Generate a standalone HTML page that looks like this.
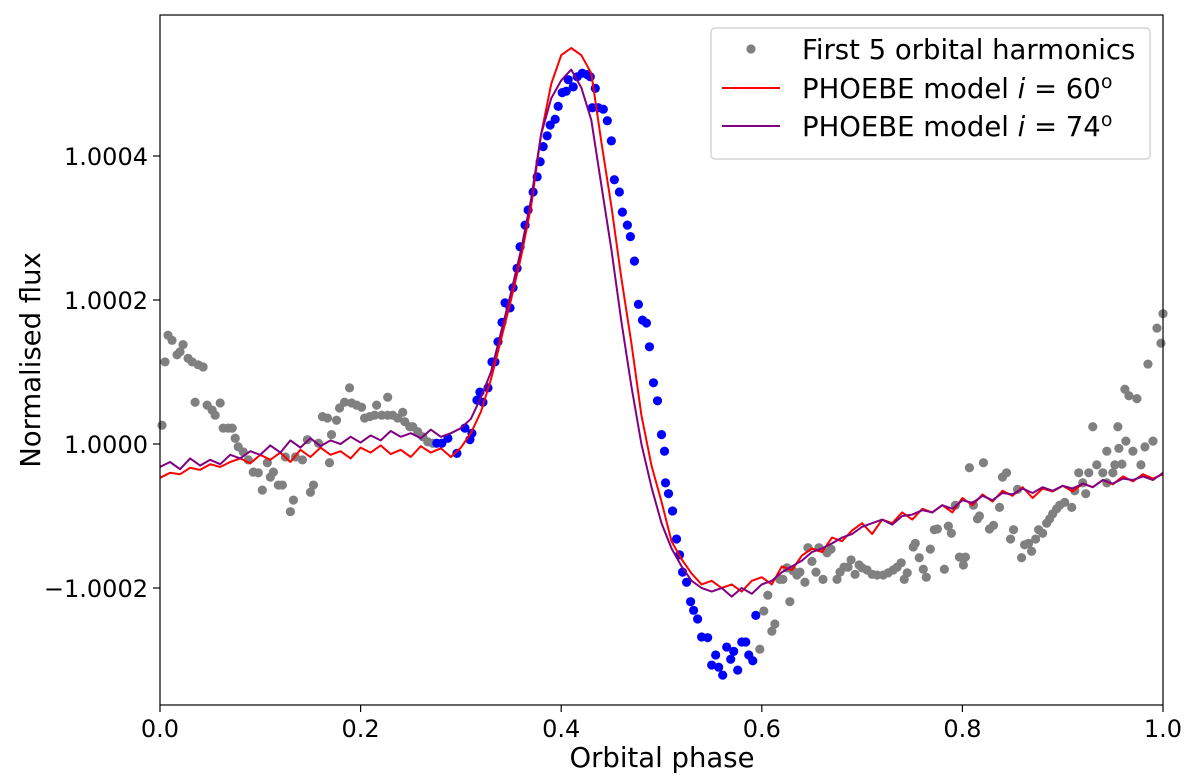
<!DOCTYPE html>
<html><head><meta charset="utf-8"><style>
body{margin:0;background:#fff;}
svg{display:block;font-family:"DejaVu Sans","Liberation Sans",sans-serif;}
</style></head><body>
<svg id="chart" width="1200" height="780">
<g id="marks"></g>
<g id="axes"></g>
</svg>
<script>
const linePhase = Array.from({length:101},(_, i)=>i/100);
const red60 = [-0.47,-0.40,-0.42,-0.33,-0.36,-0.28,-0.32,-0.25,-0.20,-0.27,-0.15,-0.22,-0.12,-0.25,-0.08,-0.18,-0.05,-0.15,-0.10,-0.20,-0.05,-0.12,-0.02,-0.14,-0.08,-0.18,-0.03,-0.12,-0.06,-0.18,-0.05,0.15,0.45,0.9,1.45,2.0,2.6,3.3,4.3,5.0,5.4,5.5,5.4,5.15,4.2,3.3,2.3,1.4,0.4,-0.3,-0.8,-1.35,-1.6,-1.8,-1.95,-1.9,-2.0,-1.95,-2.05,-1.9,-1.85,-1.95,-1.7,-1.75,-1.55,-1.45,-1.5,-1.3,-1.35,-1.2,-1.1,-1.25,-1.05,-1.1,-0.95,-1.05,-0.9,-0.95,-0.85,-0.95,-0.75,-0.85,-0.7,-0.8,-0.65,-0.72,-0.6,-0.75,-0.62,-0.66,-0.58,-0.66,-0.55,-0.6,-0.5,-0.56,-0.45,-0.52,-0.42,-0.48,-0.42];
const purple74 = [-0.32,-0.25,-0.35,-0.2,-0.3,-0.22,-0.28,-0.15,-0.2,-0.1,-0.15,-0.02,-0.12,0.05,-0.05,0.08,-0.03,0.05,0.0,0.1,0.02,0.12,0.05,0.18,0.1,0.15,0.08,0.2,0.1,0.15,0.22,0.35,0.65,1.0,1.55,2.1,2.7,3.4,4.3,4.8,5.05,5.2,4.95,4.5,3.6,2.7,1.7,0.8,0.0,-0.6,-1.1,-1.45,-1.7,-1.9,-2.0,-2.05,-2.0,-2.12,-2.0,-2.08,-1.95,-1.9,-1.78,-1.7,-1.62,-1.5,-1.45,-1.38,-1.3,-1.25,-1.15,-1.1,-1.05,-1.12,-1.0,-0.98,-0.92,-0.95,-0.85,-0.9,-0.78,-0.82,-0.72,-0.78,-0.68,-0.7,-0.62,-0.68,-0.6,-0.65,-0.58,-0.62,-0.55,-0.6,-0.5,-0.55,-0.48,-0.5,-0.45,-0.5,-0.4];
const grayPhase = [.002,.005,.008,.012,.017,.020,.023,.028,.032,.038,.043,.035,.047,.052,.055,.060,.063,.068,.072,.075,.078,.083,.088,.093,.098,.102,.107,.110,.113,.118,.122,.130,.133,.125,.135,.142,.147,.150,.153,.158,.162,.167,.169,.171,.176,.179,.184,.189,.191,.196,.201,.204,.209,.214,.216,.221,.227,.227,.232,.237,.242,.244,.249,.252,.257,.262,.267,.272,
.598,.602,.606,.610,.613,.618,.621,.625,.628,.631,.635,.638,.643,.646,.650,.654,.657,.661,.665,.669,.675,.678,.682,.686,.689,.693,.697,.700,.705,.710,.715,.721,.726,.731,.735,.739,.742,.745,.751,.753,.757,.761,.764,.768,.772,.775,.782,.786,.789,.793,.797,.801,.803,.807,.811,.815,.817,.821,.827,.831,.837,.840,.844,.848,.851,.855,.859,.862,.866,.869,.873,.876,.880,.884,.887,.890,.894,.897,.902,.909,.912,.916,.920,.923,.926,.930,.934,.940,.944,.944,.950,.952,.955,.956,.959,.962,.963,.966,.970,.974,.978,.982,.985,.990,.994,.998,1.0];
const grayValue = [.26,1.14,1.51,1.44,1.24,1.28,1.38,1.19,1.14,1.10,1.07,.58,.54,.47,.40,.57,.22,.22,.22,.08,-.04,-.11,-.22,-.39,-.40,-.64,-.26,-.46,-.39,-.57,-.57,-.94,-.78,-.18,-.18,-.22,.06,-.67,-.57,.01,.38,.36,-.26,.13,.33,.50,.58,.78,.57,.54,.51,.36,.38,.40,.54,.40,.65,.40,.40,.36,.44,.31,.24,.24,.17,.10,.03,.01,
-2.85,-2.32,-2.10,-2.60,-2.50,-1.88,-1.88,-1.72,-2.19,-1.76,-1.82,-1.78,-1.92,-1.44,-1.63,-1.78,-1.44,-1.88,-1.51,-1.46,-1.88,-1.78,-1.71,-1.71,-1.61,-1.81,-1.68,-1.72,-1.75,-1.81,-1.82,-1.82,-1.79,-1.75,-1.71,-1.65,-1.88,-1.79,-1.43,-1.38,-1.58,-1.74,-1.85,-1.46,-1.19,-1.18,-1.74,-1.14,-1.24,-.85,-1.57,-1.68,-1.57,-.33,-.85,-1.04,-1.00,-.26,-1.18,-1.13,-.88,-.46,-.40,-1.32,-1.19,-.63,-1.58,-1.40,-1.38,-1.49,-1.32,-1.19,-1.24,-1.10,-1.04,-.97,-.90,-.85,-.81,-.88,-.65,-.40,-.54,-.69,-.40,.24,-.29,-.40,-.10,-.54,-.40,-.29,.24,-.06,-.28,.76,.04,.67,-.10,.63,-.29,-.04,1.11,.04,1.61,1.40,1.81];
const bluePhase = [.276,.281,.287,.296,.304,.309,.311,.316,.319,.322,.327,.331,.334,.337,.341,.344,.349,.352,.356,.359,.364,.367,.372,.376,.379,.382,.386,.389,.394,.397,.401,.405,.407,.412,.416,.421,.426,.429,.434,.431,.437,.442,.446,.450,.453,.458,.461,.466,.469,.473,.477,.481,.485,.488,.492,.496,.500,.503,.504,.507,.511,.515,.518,.521,.525,.529,.532,.536,.540,.546,.554,.550,.557,.561,.565,.569,.572,.576,.580,.584,.587,.591,.594];
const blueValue = [.01,.01,.08,-.13,.22,.06,.15,.61,.72,.58,.78,1.14,1.14,1.42,1.69,1.96,1.89,2.17,2.44,2.74,3.04,3.25,3.50,3.71,3.92,4.13,4.28,4.43,4.51,4.69,4.88,4.90,5.06,4.96,5.10,5.15,5.13,5.10,4.94,4.67,4.67,4.65,4.49,4.21,3.67,3.50,3.22,3.04,2.88,2.54,1.94,1.72,1.68,1.35,.85,.60,.13,-.10,-.54,-.69,-.93,-1.32,-1.54,-1.78,-1.92,-2.19,-2.31,-2.43,-2.68,-2.69,-2.93,-3.07,-3.10,-3.21,-2.82,-2.99,-2.88,-3.14,-2.75,-2.75,-2.93,-3.01,-2.38];
const xTicks = [0,0.2,0.4,0.6,0.8,1.0];
const xTickLabels = ["0.0","0.2","0.4","0.6","0.8","1.0"];
const yTicks = [4,2,0,-2];
const yTickLabels = ["1.0004","1.0002","1.0000","\u22121.0002"];

const L=160,R=1163,T=15,B=705;
const X=p=>L+p*(R-L);
const Y=v=>444-v*72;
const NS="http://www.w3.org/2000/svg";
function mk(tag,attrs,parent){const e=document.createElementNS(NS,tag);for(const k in attrs)e.setAttribute(k,attrs[k]);parent.appendChild(e);return e;}
const marks=document.getElementById('marks');
const axes=document.getElementById('axes');

for(let i=0;i<grayPhase.length;i++){
  const c=mk('circle',{cx:X(grayPhase[i]),cy:Y(grayValue[i]),r:4.6,fill:'#808080'},marks);
  
  
}
for(let i=0;i<bluePhase.length;i++){
  const c=mk('circle',{cx:X(bluePhase[i]),cy:Y(blueValue[i]),r:4.6,fill:'#0000ff'},marks);
  
  
}
function line(vals,color,name){
  const d=vals.map((v,i)=>(i?'L':'M')+X(linePhase[i]).toFixed(1)+','+Y(v).toFixed(1)).join('');
  const p=mk('path',{d:d,fill:'none',stroke:color,'stroke-width':2,'stroke-linejoin':'round'},marks);
  
  
}
line(red60,'#ff0000','phoebe-i60-line');
line(purple74,'#800080','phoebe-i74-line');

const frame=mk('rect',{x:L,y:T,width:R-L,height:B-T,fill:'none',stroke:'#000','stroke-width':1.2},axes);


xTicks.forEach((t,i)=>{
  mk('line',{x1:X(t),x2:X(t),y1:B,y2:B+7,stroke:'#000','stroke-width':1.2},axes);
  const tx=mk('text',{x:X(t),y:B+32,'font-size':24,'text-anchor':'middle'},axes);
  tx.textContent=xTickLabels[i];
  
  
});
yTicks.forEach((t,i)=>{
  mk('line',{x1:L-7,x2:L,y1:Y(t),y2:Y(t),stroke:'#000','stroke-width':1.2},axes);
  const tx=mk('text',{x:L-12,y:Y(t)+9,'font-size':24,'text-anchor':'end'},axes);
  tx.textContent=yTickLabels[i];
  
  
});
</script>
<svg style="position:absolute;left:0;top:0" width="1200" height="780">
<text x="662" y="767" font-size="27.5" text-anchor="middle" font-family="DejaVu Sans, sans-serif">Orbital phase</text>
<text transform="translate(40,360) rotate(-90)" font-size="27.5" text-anchor="middle" font-family="DejaVu Sans, sans-serif">Normalised flux</text>
<g font-family="DejaVu Sans, sans-serif" font-size="27.5">
<rect x="711" y="28" width="439" height="131" rx="4" fill="#fff" fill-opacity="0.85" stroke="#ccc" stroke-width="1.2"/>
<circle cx="751" cy="49" r="4.6" fill="#808080"/>
<text x="802" y="59">First 5 orbital harmonics</text>
<line x1="722" y1="88" x2="780" y2="88" stroke="#ff0000" stroke-width="2"/>
<text x="802" y="98">PHOEBE model <tspan font-style="italic">i</tspan> = 60<tspan font-size="19" dy="-10">o</tspan></text>
<line x1="722" y1="126" x2="780" y2="126" stroke="#800080" stroke-width="2"/>
<text x="802" y="136">PHOEBE model <tspan font-style="italic">i</tspan> = 74<tspan font-size="19" dy="-10">o</tspan></text>
</g>
</svg>
</body></html>
